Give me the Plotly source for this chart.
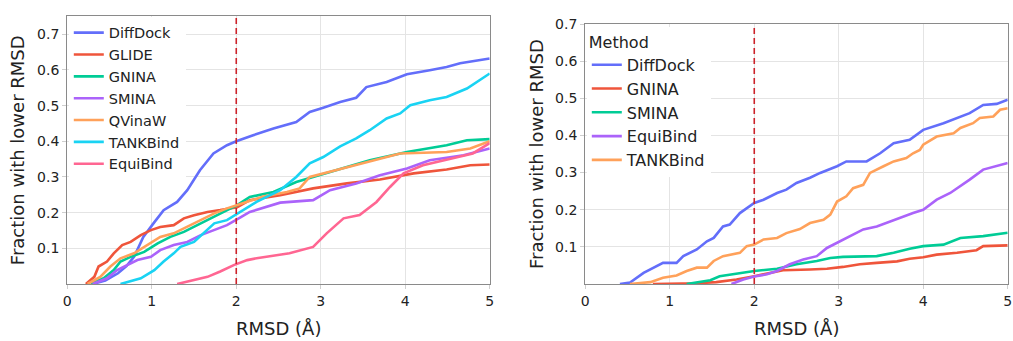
import plotly.graph_objects as go

# ---------------- Data ----------------
# Left panel
L_methods = ["DiffDock", "GLIDE", "GNINA", "SMINA", "QVinaW", "TANKBind", "EquiBind"]
L_colors = ["#636efa", "#EF553B", "#00cc96", "#ab63fa", "#FFA15A", "#19d3f3", "#FF6692"]

L_diffdock_x = [0.3, 0.45, 0.6, 0.7, 0.79, 0.9, 1.02, 1.14, 1.3, 1.42, 1.57, 1.73, 1.89, 2.0, 2.2, 2.44,
                2.71, 2.87, 3.03, 3.23, 3.42, 3.54, 3.78, 4.02, 4.29, 4.49, 4.65, 5.0]
L_diffdock_y = [0, 0.01, 0.03, 0.05, 0.076, 0.132, 0.17, 0.207, 0.23, 0.263, 0.319, 0.366, 0.389, 0.40, 0.417,
                0.436, 0.454, 0.482, 0.494, 0.51, 0.522, 0.552, 0.566, 0.588, 0.599, 0.608, 0.619, 0.632]

L_glide_x = [0.22, 0.32, 0.37, 0.47, 0.55, 0.65, 0.75, 0.87, 0.99, 1.1, 1.26, 1.38, 1.5, 1.66, 1.81, 2.01,
             2.16, 2.52, 2.91, 3.31, 3.7, 4.1, 4.49, 4.77, 5.0]
L_glide_y = [0, 0.02, 0.049, 0.063, 0.086, 0.109, 0.118, 0.137, 0.151, 0.16, 0.165, 0.184, 0.193, 0.202, 0.207,
             0.215, 0.235, 0.249, 0.268, 0.282, 0.293, 0.31, 0.321, 0.333, 0.335]

L_gnina_x = [0.28, 0.43, 0.55, 0.63, 0.75, 0.91, 1.07, 1.22, 1.38, 1.54, 1.7, 1.85, 2.01, 2.16, 2.44, 2.71,
             2.99, 3.27, 3.58, 4.02, 4.49, 4.73, 5.0]
L_gnina_y = [0, 0.016, 0.039, 0.063, 0.076, 0.09, 0.114, 0.132, 0.146, 0.165, 0.184, 0.202, 0.221, 0.244,
             0.258, 0.286, 0.305, 0.324, 0.347, 0.37, 0.389, 0.403, 0.406]

L_smina_x = [0.3, 0.47, 0.59, 0.71, 0.83, 0.99, 1.1, 1.26, 1.42, 1.58, 1.74, 1.89, 2.05, 2.16, 2.52, 2.91,
             3.11, 3.42, 3.7, 4.02, 4.29, 4.69, 5.0]
L_smina_y = [0, 0.016, 0.039, 0.053, 0.067, 0.076, 0.095, 0.109, 0.118, 0.137, 0.151, 0.165, 0.187, 0.202,
             0.228, 0.235, 0.263, 0.282, 0.305, 0.324, 0.347, 0.361, 0.38]

L_qvinaw_x = [0.24, 0.39, 0.51, 0.63, 0.79, 0.95, 1.1, 1.26, 1.42, 1.58, 1.74, 1.89, 2.05, 2.32, 2.6, 2.75,
              2.87, 3.5, 3.94, 4.49, 4.77, 5.0]
L_qvinaw_y = [0, 0.02, 0.049, 0.072, 0.086, 0.109, 0.132, 0.142, 0.16, 0.179, 0.198, 0.212, 0.224, 0.245,
              0.258, 0.268, 0.3, 0.34, 0.366, 0.37, 0.38, 0.40]

L_tankbind_x = [0.63, 0.87, 1.03, 1.14, 1.26, 1.34, 1.5, 1.66, 1.74, 1.89, 2.05, 2.24, 2.52, 2.71, 2.87, 3.03,
                3.23, 3.42, 3.58, 3.78, 3.94, 4.06, 4.29, 4.49, 4.73, 5.0]
L_tankbind_y = [0, 0.016, 0.039, 0.063, 0.086, 0.104, 0.118, 0.151, 0.17, 0.179, 0.202, 0.23, 0.263, 0.3,
                0.338, 0.356, 0.386, 0.408, 0.431, 0.464, 0.478, 0.501, 0.515, 0.524, 0.548, 0.59]

L_equibind_x = [1.3, 1.5, 1.66, 1.81, 1.97, 2.13, 2.24, 2.63, 2.91, 3.07, 3.27, 3.46, 3.66, 3.82, 3.98, 4.21,
                4.53, 4.8, 5.0]
L_equibind_y = [0, 0.011, 0.02, 0.035, 0.053, 0.067, 0.072, 0.086, 0.104, 0.142, 0.184, 0.193, 0.23, 0.272,
                0.31, 0.333, 0.352, 0.366, 0.395]

# Right panel
R_methods = ["DiffDock", "GNINA", "SMINA", "EquiBind", "TANKBind"]
R_colors = ["#636efa", "#EF553B", "#00cc96", "#ab63fa", "#FFA15A"]

R_diffdock_x = [0.41, 0.53, 0.69, 0.84, 0.92, 1.08, 1.16, 1.32, 1.44, 1.52, 1.63, 1.71, 1.83, 2.0, 2.11, 2.27,
                2.38, 2.5, 2.66, 2.78, 2.98, 3.09, 3.33, 3.49, 3.65, 3.84, 4.0, 4.24, 4.4, 4.55, 4.71, 4.87, 5.0]
R_diffdock_y = [0, 0.004, 0.03, 0.048, 0.057, 0.057, 0.075, 0.093, 0.115, 0.124, 0.155, 0.16, 0.191, 0.218,
                0.227, 0.245, 0.254, 0.272, 0.286, 0.299, 0.317, 0.33, 0.33, 0.352, 0.379, 0.388, 0.415, 0.433,
                0.447, 0.46, 0.482, 0.485, 0.496]

R_gnina_x = [0.8, 1.32, 1.55, 1.79, 2.0, 2.19, 2.34, 2.66, 2.86, 3.05, 3.25, 3.45, 3.69, 3.84, 4.0, 4.16, 4.4,
             4.63, 4.71, 5.0]
R_gnina_y = [0, 0.002, 0.005, 0.012, 0.021, 0.03, 0.037, 0.039, 0.041, 0.046, 0.053, 0.057, 0.061, 0.068,
             0.072, 0.079, 0.084, 0.091, 0.102, 0.104]

R_smina_x = [1.2, 1.48, 1.59, 1.87, 2.0, 2.27, 2.5, 2.74, 2.9, 3.05, 3.45, 3.65, 3.84, 4.0, 4.24, 4.44, 4.71, 5.0]
R_smina_y = [0, 0.01, 0.021, 0.03, 0.035, 0.041, 0.053, 0.062, 0.07, 0.073, 0.075, 0.084, 0.095, 0.102, 0.106,
             0.124, 0.129, 0.138]

R_equibind_x = [1.73, 1.87, 2.0, 2.15, 2.27, 2.42, 2.58, 2.74, 2.86, 2.98, 3.13, 3.29, 3.45, 3.61, 3.73, 3.88,
                4.0, 4.16, 4.32, 4.44, 4.55, 4.71, 4.87, 5.0]
R_equibind_y = [0, 0.012, 0.02, 0.026, 0.035, 0.053, 0.066, 0.075, 0.097, 0.111, 0.129, 0.147, 0.155, 0.169,
                0.178, 0.191, 0.2, 0.227, 0.245, 0.263, 0.281, 0.308, 0.317, 0.326]

R_tankbind_x = [0.53, 0.77, 0.92, 1.08, 1.2, 1.32, 1.44, 1.52, 1.63, 1.75, 1.83, 1.91, 2.0, 2.11, 2.27, 2.38,
                2.54, 2.66, 2.82, 2.9, 2.98, 3.09, 3.17, 3.29, 3.37, 3.53, 3.65, 3.8, 3.88, 3.96, 4.0, 4.16,
                4.36, 4.44, 4.59, 4.67, 4.83, 4.91, 5.0]
R_tankbind_y = [0, 0.005, 0.017, 0.023, 0.035, 0.044, 0.044, 0.062, 0.075, 0.08, 0.084, 0.102, 0.106, 0.12,
                0.124, 0.137, 0.148, 0.164, 0.173, 0.187, 0.222, 0.236, 0.258, 0.267, 0.299, 0.317, 0.33,
                0.339, 0.352, 0.361, 0.375, 0.397, 0.406, 0.42, 0.433, 0.447, 0.451, 0.469, 0.473]

x_ticks = [0, 1, 2, 3, 4, 5]
y_ticks = [0.1, 0.2, 0.3, 0.4, 0.5, 0.6, 0.7]
threshold = 2
x_title = "RMSD (Å)"
y_title = "Fraction with lower RMSD"
legend2_title = "Method"

# ---------------- Figure ----------------
FONT = "DejaVu Sans"
W, H = 1013, 341
LW = 2.6
fig = go.Figure()

L_series = [(L_diffdock_x, L_diffdock_y), (L_glide_x, L_glide_y), (L_gnina_x, L_gnina_y),
            (L_smina_x, L_smina_y), (L_qvinaw_x, L_qvinaw_y), (L_tankbind_x, L_tankbind_y),
            (L_equibind_x, L_equibind_y)]
for name, col, (xs, ys) in zip(L_methods, L_colors, L_series):
    fig.add_trace(go.Scatter(x=xs, y=ys, name=name, mode="lines", line=dict(color=col, width=LW),
                             xaxis="x", yaxis="y", legend="legend"))

R_series = [(R_diffdock_x, R_diffdock_y), (R_gnina_x, R_gnina_y), (R_smina_x, R_smina_y),
            (R_equibind_x, R_equibind_y), (R_tankbind_x, R_tankbind_y)]
for name, col, (xs, ys) in zip(R_methods, R_colors, R_series):
    fig.add_trace(go.Scatter(x=xs, y=ys, name=name, mode="lines", line=dict(color=col, width=LW),
                             xaxis="x2", yaxis="y2", legend="legend2"))

def px_x(p):
    return p / W

def px_y(p):
    return (H - p) / H

axis_common = dict(showgrid=True, gridcolor="#e4e4e4", gridwidth=1, zeroline=False, showline=True,
                   linecolor="#8a8a8a", linewidth=1.3, mirror=True, ticks="outside", ticklen=4,
                   tickcolor="#cfcfcf", tickfont=dict(family=FONT, size=14, color="#222"), automargin=False)

L_left, L_right, R_left, R_right = 67.3, 489.7, 585.3, 1007.7
bottom, L_top, R_top = 284.0, 15.7, 24.0

fig.update_layout(
    width=W, height=H, margin=dict(l=0, r=0, t=0, b=0),
    paper_bgcolor="white", plot_bgcolor="white",
    font=dict(family=FONT, color="#222"),
    xaxis=dict(domain=[px_x(L_left), px_x(L_right)], range=[0, 5], tickvals=x_ticks, anchor="y", **axis_common),
    yaxis=dict(domain=[px_y(bottom), px_y(L_top)], range=[0, 0.752], tickvals=y_ticks, tickformat=".1f",
               anchor="x", **axis_common),
    xaxis2=dict(domain=[px_x(R_left), px_x(R_right)], range=[0, 5], tickvals=x_ticks, anchor="y2", **axis_common),
    yaxis2=dict(domain=[px_y(bottom), px_y(R_top)], range=[0, 0.7], tickvals=y_ticks, tickformat=".1f",
                anchor="x2", **axis_common),
    legend=dict(x=px_x(L_left + 1.5), y=px_y(L_top + 1), xanchor="left", yanchor="top",
                bgcolor="white", borderwidth=0, font=dict(family=FONT, size=14.5, color="#222"),
                itemwidth=30, tracegroupgap=0),
    legend2=dict(x=px_x(R_left + 1.5), y=px_y(R_top + 3), xanchor="left", yanchor="top",
                 bgcolor="white", borderwidth=0, font=dict(family=FONT, size=16, color="#222"),
                 title=dict(text=legend2_title, font=dict(family=FONT, size=16, color="#222")),
                 itemwidth=30, tracegroupgap=0),
    showlegend=True,
)

# threshold lines
for xa, ya in [("x", "y"), ("x2", "y2")]:
    fig.add_shape(type="line", xref=xa, yref=f"{ya} domain", x0=threshold, x1=threshold, y0=0, y1=1,
                  line=dict(color="#cc2229", width=1.6, dash="6px,4px"), layer="above")

# axis titles
ann_font = dict(family=FONT, size=18, color="#222")
for cx in [(L_left + L_right) / 2, (R_left + R_right) / 2]:
    fig.add_annotation(text=x_title, x=px_x(cx), y=px_y(328.5), xref="paper", yref="paper",
                       showarrow=False, xanchor="center", yanchor="middle", font=ann_font)
for cx, cy in [(18.3, (L_top + bottom) / 2), (536.0, (R_top + bottom) / 2)]:
    fig.add_annotation(text=y_title, x=px_x(cx), y=px_y(cy), xref="paper", yref="paper", textangle=-90,
                       showarrow=False, xanchor="center", yanchor="middle", font=ann_font)

fig.write_html("out.html")
